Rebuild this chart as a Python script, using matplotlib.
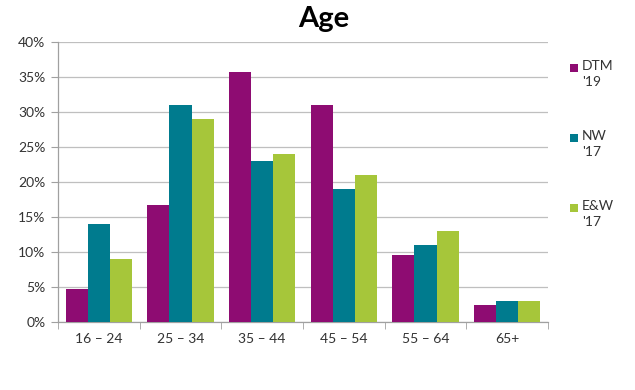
import matplotlib
matplotlib.use("Agg")
import matplotlib.pyplot as plt
import numpy as np
from matplotlib.patches import Rectangle

categories = ["16 – 24", "25 – 34", "35 – 44", "45 – 54", "55 – 64", "65+"]
dtm19 = [4.7, 16.7, 35.7, 31.0, 9.6, 2.4]
nw17 = [14, 31, 23, 19, 11, 3]
ew17 = [9, 29, 24, 21, 13, 3]
series_labels = ["DTM\n'19", "NW\n'17", "E&W\n'17"]
colors = ["#8E0C72", "#007B8E", "#A6C63A"]
yticks = [0, 5, 10, 15, 20, 25, 30, 35, 40]

plt.rcParams['font.family'] = ['Lato', 'DejaVu Sans']

fig = plt.figure(figsize=(6.35, 3.9), dpi=100)
ax = fig.add_axes([58/635, 1-322/390, (548-58)/635, (322-42)/390])

x = np.arange(len(categories))
w = 0.27
for i, (vals, c) in enumerate(zip([dtm19, nw17, ew17], colors)):
    ax.bar(x + (i-1)*w, vals, width=w, color=c, zorder=3)

ax.set_xlim(-0.5, len(categories)-0.5)
ax.set_ylim(0, 40)
ax.set_yticks(yticks)
ax.set_yticklabels([f"{v}%" for v in yticks], fontsize=10, color="#333333")
ax.set_xticks(x)
ax.set_xticklabels(categories, fontsize=10, color="#333333")
ax.set_xticks(np.arange(-0.5, len(categories)), minor=True)
ax.tick_params(axis='x', which='major', length=0, pad=8)
ax.tick_params(axis='x', which='minor', length=5, color="#A0A0A0", direction='out')
ax.tick_params(axis='y', length=5, color="#A0A0A0", direction='out', pad=4)
ax.grid(axis='y', color="#BFBFBF", linewidth=0.9, zorder=0)
for s in ['top', 'right']:
    ax.spines[s].set_visible(False)
for s in ['left', 'bottom']:
    ax.spines[s].set_color("#A0A0A0")
    ax.spines[s].set_linewidth(0.9)

fig.text(0.51, 1-19/390, "Age", ha='center', va='center', fontsize=21, fontweight='bold', color='black')

# legend drawn manually
W, H = 635, 390
for k, (lab, c) in enumerate(zip(series_labels, colors)):
    yc = 68 + 70*k
    fig.add_artist(Rectangle((570/W, 1-(yc+4)/H), 8/W, 8/H, transform=fig.transFigure,
                             facecolor=c, edgecolor='none'))
    fig.text(582/W, 1-(yc-8)/H, lab, ha='left', va='top', fontsize=10, color="#333333",
             linespacing=1.4)

fig.savefig("out.png", dpi=100)
